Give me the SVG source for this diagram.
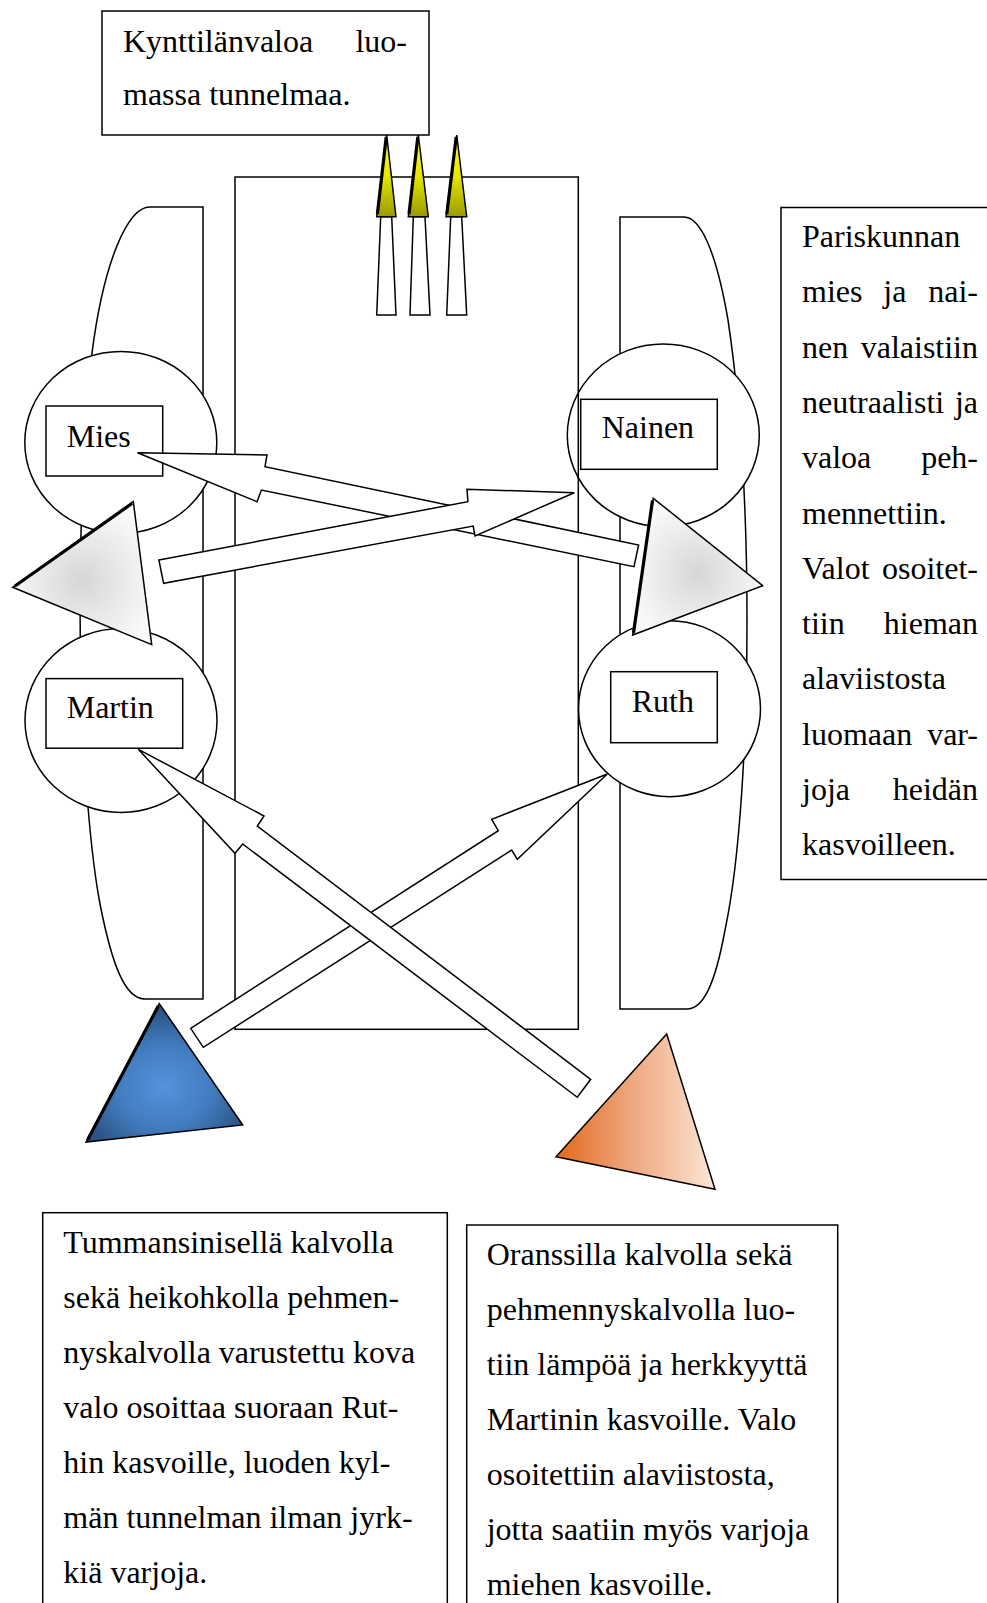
<svg xmlns="http://www.w3.org/2000/svg" width="987" height="1603" viewBox="0 0 987 1603">
<style>
  .ln{fill:#fff;stroke:#000;stroke-width:1.5;stroke-linejoin:miter}
  .nf{fill:none;stroke:#000;stroke-width:1.5}
  .t{font-family:"Liberation Serif","Times New Roman",serif;font-size:32px;fill:#000}
  .edge{fill:none;stroke:#000;stroke-width:3.2;stroke-linecap:butt}
</style>
<defs>
  <radialGradient id="gGray" cx="0.5" cy="0.55" r="0.55">
    <stop offset="0" stop-color="#d6d6d6"/>
    <stop offset="0.6" stop-color="#ececec"/>
    <stop offset="1" stop-color="#f9f9f9"/>
  </radialGradient>
  <radialGradient id="gBlue" cx="0.5" cy="0.6" r="0.55">
    <stop offset="0" stop-color="#5592dc"/>
    <stop offset="0.55" stop-color="#427cbf"/>
    <stop offset="1" stop-color="#2b5485"/>
  </radialGradient>
  <linearGradient id="gOrange" x1="0" y1="0" x2="1" y2="0">
    <stop offset="0" stop-color="#e2691c"/>
    <stop offset="0.45" stop-color="#eea47a"/>
    <stop offset="1" stop-color="#fbe6d6"/>
  </linearGradient>
  <linearGradient id="gFlame" x1="0" y1="0" x2="0" y2="1">
    <stop offset="0" stop-color="#ffff20"/>
    <stop offset="0.5" stop-color="#e6e600"/>
    <stop offset="1" stop-color="#9a9a00"/>
  </linearGradient>
</defs>

<!-- chairs -->
<g id="chair-left">
  <path class="ln" d="M203,207 L150,207 C128,207 104,260 92,353 C86,420 80,500 80,600 C80,720 88,840 100,904 C112,965 125,999 145,999 L203,999 Z"/>
</g>
<g id="chair-right">
  <path class="ln" d="M620,217 L684,217 C700,217 716,250 728,320 C740,400 747,500 747,620 C747,740 740,860 725,930 C715,985 703,1009 687,1009 L620,1009 Z"/>
</g>

<!-- people -->
<g id="mies">
  <ellipse class="ln" cx="120.8" cy="442.4" rx="96" ry="91"/>
  <rect class="ln" x="46" y="406" width="116.7" height="70"/>
  <text class="t" x="66.7" y="446.7">Mies</text>
</g>
<g id="nainen">
  <ellipse class="ln" cx="663.3" cy="435.3" rx="96" ry="91.3"/>
  <rect class="ln" x="580.7" y="399.3" width="136.6" height="70"/>
  <text class="t" x="601.7" y="438.3">Nainen</text>
</g>
<g id="martin">
  <ellipse class="ln" cx="121" cy="720.5" rx="96" ry="92"/>
  <rect class="ln" x="46" y="678.6" width="136.7" height="69.6"/>
  <text class="t" x="66.7" y="717.9">Martin</text>
</g>
<g id="ruth">
  <ellipse class="ln" cx="669.5" cy="708.7" rx="91" ry="88"/>
  <rect class="ln" x="610.7" y="671.7" width="106.6" height="71"/>
  <text class="t" x="631.7" y="711.7">Ruth</text>
</g>

<!-- table -->
<g id="table">
  <rect class="nf" x="235" y="177" width="343.3" height="852.3"/>
</g>

<!-- candles -->
<g id="candles">
  <polygon class="ln" points="380.7,216.7 391.7,216.7 396,315 376.7,315"/>
  <polygon class="ln" points="413.3,216.7 425,216.7 430,315 410,315"/>
  <polygon class="ln" points="450.7,216.7 461.7,216.7 466.7,315 446.7,315"/>
  <polygon points="386.7,135 376.7,216.7 396,216.7" fill="url(#gFlame)" stroke="#000" stroke-width="1.5"/>
  <polygon points="418.3,135 408.3,216.7 428.3,216.7" fill="url(#gFlame)" stroke="#000" stroke-width="1.5"/>
  <polygon points="456.7,135 446,216.7 466.7,216.7" fill="url(#gFlame)" stroke="#000" stroke-width="1.5"/>
  <line class="edge" x1="386.2" y1="137" x2="377.4" y2="214" stroke-width="2.5"/>
  <line class="edge" x1="417.8" y1="137" x2="409" y2="214" stroke-width="2.5"/>
  <line class="edge" x1="456.2" y1="137" x2="446.8" y2="214" stroke-width="2.5"/>
</g>

<!-- lights -->
<g id="light-gray-left">
  <polygon points="133.3,501.7 12.7,587.3 151.7,644.6" fill="url(#gGray)" stroke="#000" stroke-width="1.5"/>
  <line class="edge" x1="132" y1="503.5" x2="15" y2="586"/>
</g>
<g id="light-gray-right">
  <polygon points="653.3,498.3 762.7,585.7 632.7,635" fill="url(#gGray)" stroke="#000" stroke-width="1.5"/>
  <line class="edge" x1="652.5" y1="500.5" x2="633.5" y2="633"/>
</g>
<g id="light-blue">
  <polygon points="159.3,1003.6 86,1142 242.7,1125" fill="url(#gBlue)" stroke="#000" stroke-width="1.5"/>
  <line class="edge" x1="158.3" y1="1006" x2="87.5" y2="1140"/>
</g>
<g id="light-orange">
  <polygon points="666.7,1034 556,1156.7 715,1189.3" fill="url(#gOrange)" stroke="#000" stroke-width="1.5"/>
</g>

<!-- connectors (block arrows) -->
<g id="connectors">
  <polygon class="ln" points="137.5,452.7 267,455 265,466.7 638.6,545 634,566.7 261.4,490 257,501.7"/>
  <polygon class="ln" points="158.9,560 467.9,501.7 467,489.3 574.3,492.7 475,536 473.2,526 163.6,583.3"/>
  <polygon class="ln" points="190.7,1028.3 498.3,830.7 491.7,819.3 607.3,774 517.3,859.3 511.7,850 203.3,1047.3"/>
  <polygon class="ln" points="138.3,749.3 264,816 257.3,826 590.7,1079.3 577.3,1097.3 242.7,844 235,853.3"/>
</g>

<!-- text boxes -->
<g id="note-candles">
  <rect class="ln" x="102" y="11" width="327" height="124"/>
  <text class="t" x="123" y="51.7">Kynttilänvaloa</text>
  <text class="t" x="407" y="51.7" text-anchor="end">luo-</text>
  <text class="t" x="123" y="105">massa tunnelmaa.</text>
</g>

<g id="note-couple">
  <rect class="ln" x="781" y="207.5" width="220" height="672"/>
  <text class="t" x="802" y="247">Pariskunnan</text>
  <text class="t" x="802" y="302.3">mies</text>
  <text class="t" x="883.3" y="302.3">ja</text>
  <text class="t" x="978" y="302.3" text-anchor="end">nai-</text>
  <text class="t" x="802" y="357.6">nen</text>
  <text class="t" x="978" y="357.6" text-anchor="end">valaistiin</text>
  <text class="t" x="802" y="412.9">neutraalisti</text>
  <text class="t" x="978" y="412.9" text-anchor="end">ja</text>
  <text class="t" x="802" y="468.2">valoa</text>
  <text class="t" x="978" y="468.2" text-anchor="end">peh-</text>
  <text class="t" x="802" y="523.5">mennettiin.</text>
  <text class="t" x="802" y="578.8">Valot</text>
  <text class="t" x="978" y="578.8" text-anchor="end">osoitet-</text>
  <text class="t" x="802" y="634.1">tiin</text>
  <text class="t" x="978" y="634.1" text-anchor="end">hieman</text>
  <text class="t" x="802" y="689.4">alaviistosta</text>
  <text class="t" x="802" y="744.7">luomaan</text>
  <text class="t" x="978" y="744.7" text-anchor="end">var-</text>
  <text class="t" x="802" y="800">joja</text>
  <text class="t" x="978" y="800" text-anchor="end">heidän</text>
  <text class="t" x="802" y="855.3">kasvoilleen.</text>
</g>

<g id="note-blue">
  <rect class="ln" x="42.7" y="1212.7" width="404.6" height="420"/>
  <text class="t" x="63.3" y="1253.3">Tummansinisellä kalvolla</text>
  <text class="t" x="63.3" y="1308.3">sekä heikohkolla pehmen-</text>
  <text class="t" x="63.3" y="1363.3">nyskalvolla varustettu kova</text>
  <text class="t" x="63.3" y="1418.3">valo osoittaa suoraan Rut-</text>
  <text class="t" x="63.3" y="1473.3">hin kasvoille, luoden kyl-</text>
  <text class="t" x="63.3" y="1528.3">män tunnelman ilman jyrk-</text>
  <text class="t" x="63.3" y="1583.3">kiä varjoja.</text>
</g>

<g id="note-orange">
  <rect class="ln" x="466.7" y="1225" width="371" height="420"/>
  <text class="t" x="486.7" y="1265">Oranssilla kalvolla sekä</text>
  <text class="t" x="486.7" y="1320">pehmennyskalvolla luo-</text>
  <text class="t" x="486.7" y="1375">tiin lämpöä ja herkkyyttä</text>
  <text class="t" x="486.7" y="1430">Martinin kasvoille. Valo</text>
  <text class="t" x="486.7" y="1485">osoitettiin alaviistosta,</text>
  <text class="t" x="486.7" y="1540">jotta saatiin myös varjoja</text>
  <text class="t" x="486.7" y="1595">miehen kasvoille.</text>
</g>
</svg>
